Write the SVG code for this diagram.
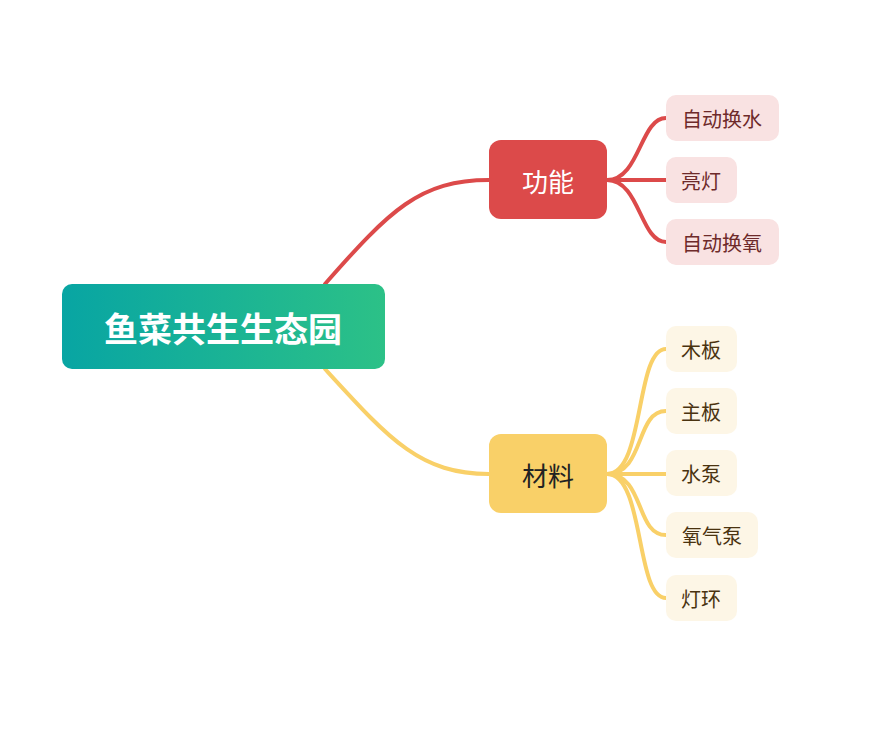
<svg xmlns="http://www.w3.org/2000/svg" width="877" height="741" viewBox="0 0 877 741">
<defs>
<linearGradient id="g" x1="0" y1="0" x2="1" y2="0"><stop offset="0" stop-color="#08a5a3"/><stop offset="1" stop-color="#2cc187"/></linearGradient>
<style>
text{font-family:"Noto Sans CJK SC","Noto Sans",sans-serif;text-anchor:middle;dominant-baseline:central}
.r{stroke:#dc4a4a;stroke-width:4;fill:none;stroke-linecap:round}
.y{stroke:#f9d068;stroke-width:4;fill:none;stroke-linecap:round}
.rc{fill:#f9e2e2}.yc{fill:#fdf6e6}
.rt{fill:#6e2a2a;font-size:20px}.yt{fill:#4a3310;font-size:20px}
</style>
</defs>
<rect width="877" height="741" fill="#fff"/>
<g id="connectors">
<path class="r" d="M325 284 C390 210 420 180 489 180"/>
<path class="y" d="M325 369 C390 440 420 474 489 474"/>
<path class="r" d="M607 180 C640 180 640 118 666 118"/>
<path class="r" d="M607 180 L666 180"/>
<path class="r" d="M607 180 C640 180 640 242 666 242"/>
<path class="y" d="M607 474 C645 474 635 349 666 349"/>
<path class="y" d="M607 474 C645 474 635 411 666 411"/>
<path class="y" d="M607 474 L666 474"/>
<path class="y" d="M607 474 C645 474 635 535 666 535"/>
<path class="y" d="M607 474 C645 474 635 598 666 598"/>
</g>
<g id="root"><rect x="62" y="284" width="323" height="85" rx="10" fill="url(#g)"/><text x="223" y="327" fill="#fff" font-size="34" font-weight="bold">鱼菜共生生态园</text></g>
<g id="gongneng"><rect x="489" y="140" width="118" height="79" rx="12" fill="#dc4a4a"/><text x="548" y="180" fill="#fff" font-size="26">功能</text></g>
<g id="cailiao"><rect x="489" y="434" width="118" height="79" rx="12" fill="#f9d068"/><text x="548" y="474" fill="#222" font-size="26">材料</text></g>
<g id="c1"><rect class="rc" x="666" y="95" width="113" height="46" rx="10"/><text class="rt" x="722" y="118">自动换水</text></g>
<g id="c2"><rect class="rc" x="666" y="157" width="71" height="46" rx="10"/><text class="rt" x="701" y="180">亮灯</text></g>
<g id="c3"><rect class="rc" x="666" y="219" width="113" height="46" rx="10"/><text class="rt" x="722" y="242">自动换氧</text></g>
<g id="m1"><rect class="yc" x="666" y="326" width="71" height="46" rx="10"/><text class="yt" x="701" y="349">木板</text></g>
<g id="m2"><rect class="yc" x="666" y="388" width="71" height="46" rx="10"/><text class="yt" x="701" y="411">主板</text></g>
<g id="m3"><rect class="yc" x="666" y="450" width="71" height="46" rx="10"/><text class="yt" x="701" y="473">水泵</text></g>
<g id="m4"><rect class="yc" x="666" y="512" width="92" height="46" rx="10"/><text class="yt" x="712" y="535">氧气泵</text></g>
<g id="m5"><rect class="yc" x="666" y="575" width="71" height="46" rx="10"/><text class="yt" x="701" y="598">灯环</text></g>
</svg>
